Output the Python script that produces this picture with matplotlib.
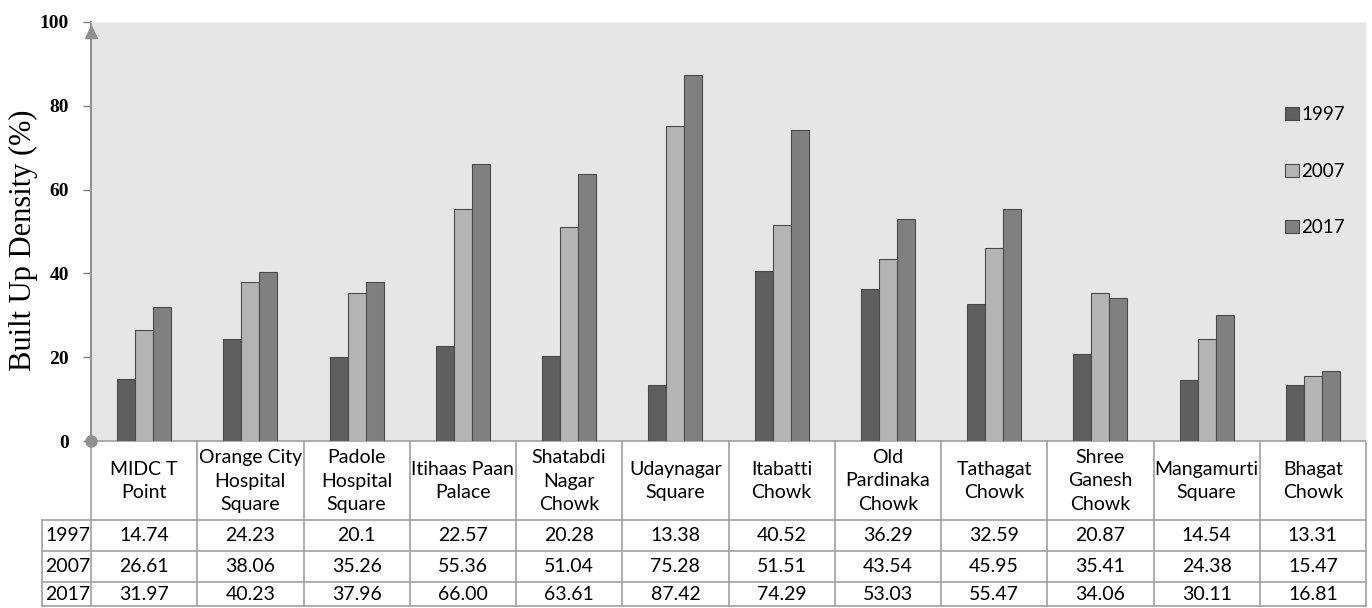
import matplotlib
matplotlib.use("Agg")
import matplotlib.pyplot as plt
import numpy as np

places = ["MIDC T\nPoint", "Orange City\nHospital\nSquare", "Padole\nHospital\nSquare",
          "Itihaas Paan\nPalace", "Shatabdi\nNagar\nChowk", "Udaynagar\nSquare",
          "Itabatti\nChowk", "Old\nPardinaka\nChowk", "Tathagat\nChowk",
          "Shree\nGanesh\nChowk", "Mangamurti\nSquare", "Bhagat\nChowk"]
years = ["1997", "2007", "2017"]
txt_1997 = ["14.74", "24.23", "20.1", "22.57", "20.28", "13.38", "40.52", "36.29", "32.59", "20.87", "14.54", "13.31"]
txt_2007 = ["26.61", "38.06", "35.26", "55.36", "51.04", "75.28", "51.51", "43.54", "45.95", "35.41", "24.38", "15.47"]
txt_2017 = ["31.97", "40.23", "37.96", "66.00", "63.61", "87.42", "74.29", "53.03", "55.47", "34.06", "30.11", "16.81"]
colors = ["#5f5f5f", "#b4b4b4", "#808080"]

W, H = 1372, 608
L, R, T, B = 91, 1366, 22, 441

fig = plt.figure(figsize=(W / 100, H / 100), dpi=100)
ax = fig.add_axes([L / W, (H - B) / H, (R - L) / W, (B - T) / H])
ax.set_facecolor("#e6e6e6")

n = len(places)
x = np.arange(n)
bw = 0.17
rows = [txt_1997, txt_2007, txt_2017]
for k, (yr, vals) in enumerate(zip(years, rows)):
    ax.bar(x + (k - 1) * bw, [float(v) for v in vals], bw, color=colors[k],
           edgecolor="#4a4a4a", linewidth=0.8, label=yr, zorder=3)

ax.set_xlim(-0.5, n - 0.5)
ax.set_ylim(0, 100)
ax.set_xticks([])
ax.set_yticks(range(0, 101, 20))
ax.set_yticklabels([str(v) for v in range(0, 101, 20)], fontfamily="Liberation Serif",
                   fontweight="bold", fontsize=14)
ax.tick_params(axis="y", color="#808080", length=6, width=1, pad=10)
for s in ["top", "right"]:
    ax.spines[s].set_color("#f0f0f0")
ax.spines["bottom"].set_visible(False)
ax.spines["left"].set_color("#909090")
ax.spines["left"].set_linewidth(1.5)
ax.plot([0], [0.975], marker="^", color="#909090", markersize=9, transform=ax.transAxes, clip_on=False, zorder=5)
ax.plot([0], [0], marker="o", color="#909090", markersize=8, transform=ax.transAxes, clip_on=False, zorder=5)

fig.text(23 / W, 1 - 240 / H, "Built Up Density (%)", family="Liberation Serif", fontsize=22,
         rotation=90, ha="center", va="center")

ax.legend(loc="upper left", bbox_to_anchor=((1276 - L) / (R - L), (B - 97) / (B - T)),
          frameon=False, prop={"family": "Lato", "size": 13.5}, handlelength=0.7,
          handleheight=0.7, handletextpad=0.15, labelspacing=2.1, borderpad=0)

# data table below the axis
def fy(py):
    return (B - py) / (B - T)

xt = ax.get_xaxis_transform()
lc = "#a0a0a0"
row_lines = [520, 551, 582, 606]
x_left = -0.5 - (L - 42) / ((R - L) / n)
ax.plot([-0.5, n - 0.5], [fy(B), fy(B)], color=lc, lw=1.2, transform=xt, clip_on=False)
for py in row_lines:
    ax.plot([x_left, n - 0.5], [fy(py), fy(py)], color=lc, lw=1.2, transform=xt, clip_on=False)
for xv in list(np.arange(n + 1) - 0.5):
    ax.plot([xv, xv], [fy(B), fy(606)], color=lc, lw=1.2, transform=xt, clip_on=False)
ax.plot([x_left, x_left], [fy(520), fy(606)], color=lc, lw=1.2, transform=xt, clip_on=False)

tfont = {"family": "Lato", "size": 14}
for i, name in enumerate(places):
    ax.text(i, fy(481), name, transform=xt, ha="center", va="center", linespacing=1.45, **tfont)
mids = [535.5, 566.5, 594]
for yr, vals, py in zip(years, rows, mids):
    ax.text(x_left + 0.03, fy(py), yr, transform=xt, ha="left", va="center", **tfont)
    for i, v in enumerate(vals):
        ax.text(i, fy(py), v, transform=xt, ha="center", va="center", **tfont)

plt.savefig("out.png", dpi=100)
